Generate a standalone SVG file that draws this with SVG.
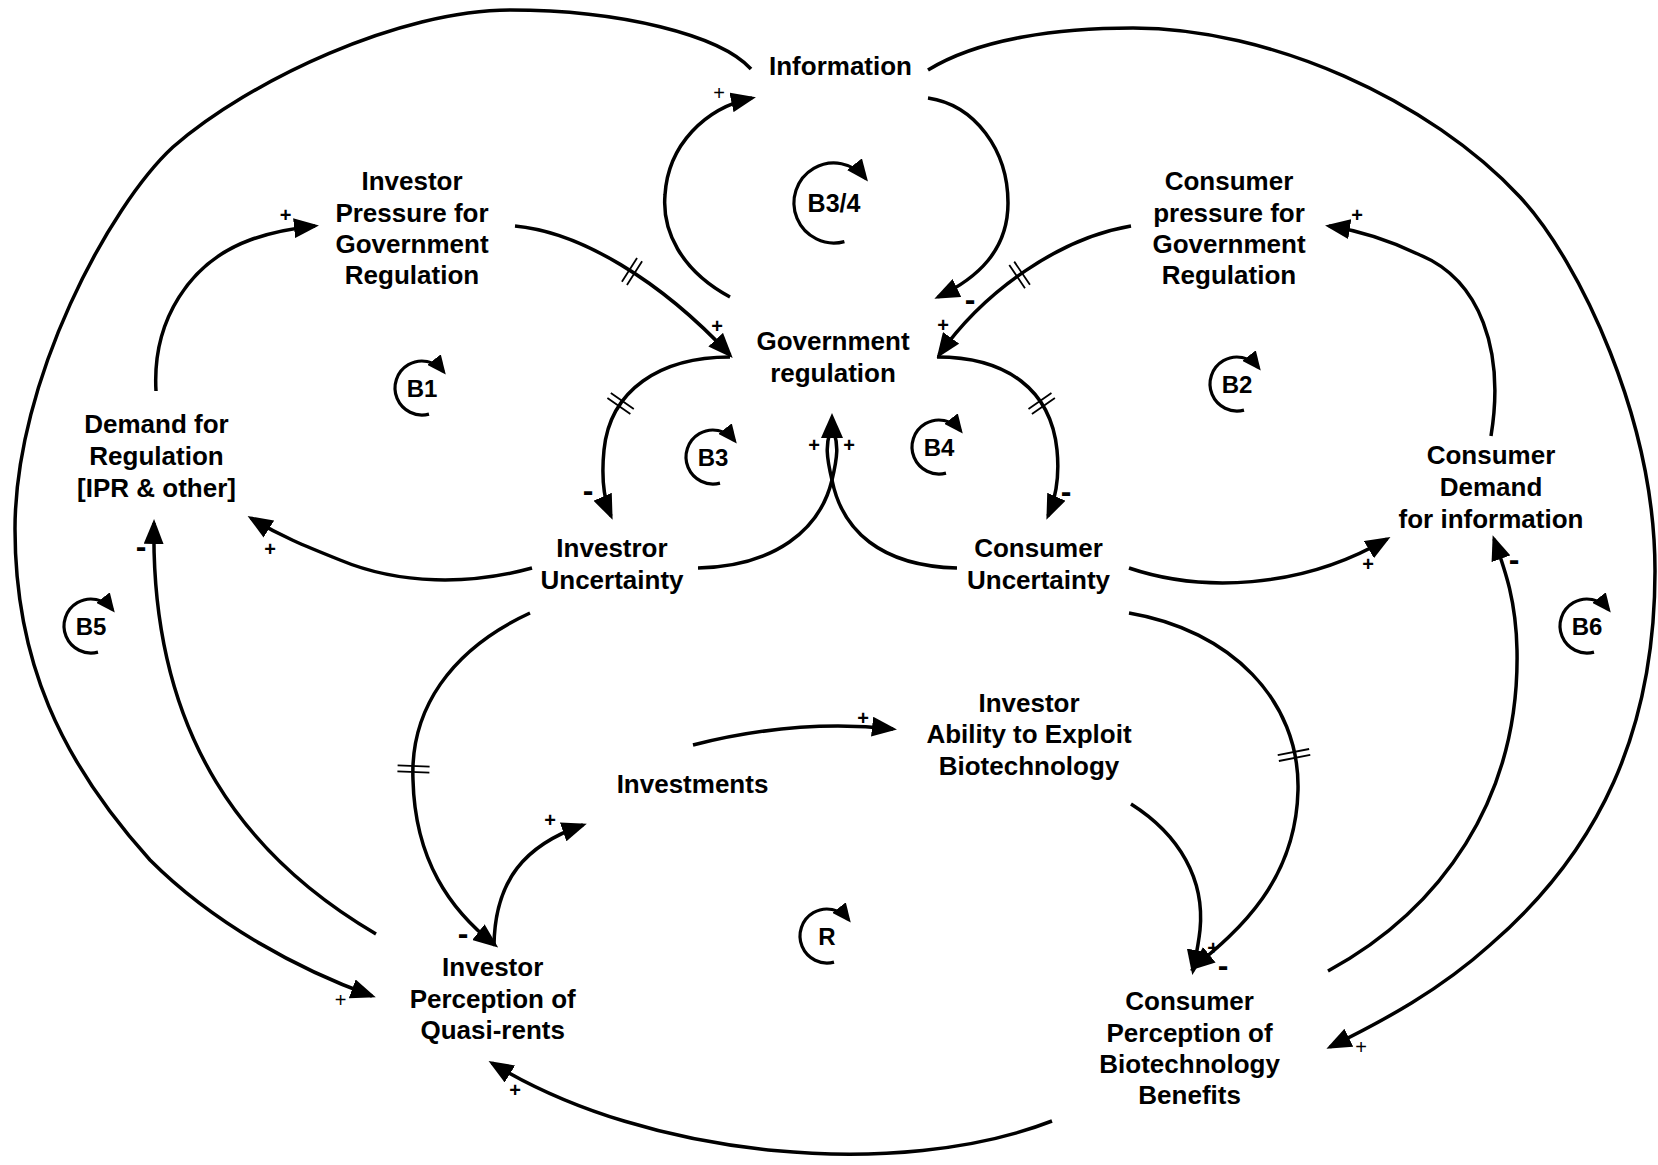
<svg xmlns="http://www.w3.org/2000/svg" width="1658" height="1165" viewBox="0 0 1658 1165">
<style>
.n{font-family:"Liberation Sans",Arial,sans-serif;font-weight:bold;font-size:26px;text-anchor:middle;fill:#000}
.lp{font-family:"Liberation Sans",Arial,sans-serif;font-weight:bold;font-size:24px;text-anchor:middle;fill:#000}
.pl{font-family:"Liberation Sans",Arial,sans-serif;font-weight:bold;font-size:20px;text-anchor:middle;fill:#000}
.plt{font-family:"Liberation Sans",Arial,sans-serif;font-weight:normal;font-size:20px;text-anchor:middle;fill:#000}
.mi{font-family:"Liberation Sans",Arial,sans-serif;font-weight:bold;font-size:32px;text-anchor:middle;fill:#000}
.c{fill:none;stroke:#000;stroke-width:3.5}
.d{fill:none;stroke:#000;stroke-width:1.8}
.la{fill:none;stroke:#000;stroke-width:3.2}
</style>
<defs>
<marker id="ah" markerUnits="userSpaceOnUse" markerWidth="25" markerHeight="20" viewBox="0 0 25 20" refX="21" refY="10" orient="auto"><path d="M0,0 L25,10 L0,20 z" fill="#000"/></marker>
<marker id="ah2" markerUnits="userSpaceOnUse" markerWidth="19" markerHeight="17" viewBox="0 0 19 17" refX="15" refY="8.5" orient="auto"><path d="M0,0 L19,8.5 L0,17 z" fill="#000"/></marker>
<marker id="ah3" markerUnits="userSpaceOnUse" markerWidth="22" markerHeight="19" viewBox="0 0 22 19" refX="18" refY="9.5" orient="auto"><path d="M0,0 L22,9.5 L0,19 z" fill="#000"/></marker>
</defs>
<rect width="1658" height="1165" fill="#fff"/>

<g id="connectors">
<path class="c" d="M751,69 C720,35 620,10 510,10 C400,10 250,80 173,147 C110,205 15,380 15,529 C15,660 60,760 150,860 C215,925 300,970 372,996" marker-end="url(#ah)"/>
<path class="c" d="M928,70 C980,38 1060,28 1133,28 C1270,28 1430,100 1520,197 C1580,262 1655,420 1655,571 C1655,730 1600,850 1490,945 C1440,990 1385,1020 1330,1047" marker-end="url(#ah)"/>
<path class="c" d="M928,98 C975,105 1008,150 1008,203 C1008,250 978,278 938,297" marker-end="url(#ah)"/>
<path class="c" d="M730,297 C680,270 662,230 665,195 C668,145 705,108 752,98" marker-end="url(#ah)"/>
<path class="c" d="M515,226 C580,232 660,280 730,355" marker-end="url(#ah)"/>
<path class="c" d="M1131,226 C1060,238 985,290 939,355" marker-end="url(#ah)"/>
<path class="c" d="M730,357 C660,357 610,390 604,450 C601,480 604,500 611,516" marker-end="url(#ah)"/>
<path class="c" d="M937,357 C1007,357 1051,390 1057,450 C1060,480 1055,500 1048,516" marker-end="url(#ah)"/>
<path class="c" d="M698,568 C775,566 820,530 832,480 C838,455 838,445 834,432"/>
<path class="c" d="M957,568 C880,566 842,530 832,480 C826,455 826,445 830,432"/>
<polygon points="832,413 843,438 821,438" fill="#000"/>
<path class="c" d="M532,568 C470,585 400,585 340,560 C305,546 280,536 251,518" marker-end="url(#ah)"/>
<path class="c" d="M1129,568 C1200,592 1300,590 1387,539" marker-end="url(#ah)"/>
<path class="c" d="M156,391 C152,320 190,262 250,240 C275,231 295,228 315,226" marker-end="url(#ah)"/>
<path class="c" d="M1491,436 C1505,350 1480,280 1420,255 C1385,238 1355,230 1329,226" marker-end="url(#ah)"/>
<path class="c" d="M376,934 C250,860 150,740 154,523" marker-end="url(#ah)"/>
<path class="c" d="M1328,971 C1440,910 1520,800 1517,650 C1516,600 1505,570 1494,539" marker-end="url(#ah)"/>
<path class="c" d="M530,613 C450,650 410,710 413,780 C415,860 450,910 495,945" marker-end="url(#ah)"/>
<path class="c" d="M494,945 C495,880 525,845 583,825" marker-end="url(#ah)"/>
<path class="c" d="M693,745 C760,728 830,722 893,729" marker-end="url(#ah)"/>
<path class="c" d="M1131,804 C1180,835 1205,880 1200,930 C1198,948 1195,960 1193,971" marker-end="url(#ah)"/>
<path class="c" d="M1129,613 C1230,630 1300,700 1298,790 C1296,880 1240,930 1193,968" marker-end="url(#ah)"/>
<path class="c" d="M1052,1121 C900,1180 650,1160 492,1063" marker-end="url(#ah)"/>
<!-- delay marks -->
<path class="d" transform="translate(632,271.5) rotate(32.7)" d="M-3,-14 V14 M3,-14 V14"/>
<path class="d" transform="translate(1019.6,274.9) rotate(145.9)" d="M-3,-14 V14 M3,-14 V14"/>
<path class="d" transform="translate(620.6,403.5) rotate(124.9)" d="M-3,-14 V14 M3,-14 V14"/>
<path class="d" transform="translate(1041.7,403.5) rotate(55.1)" d="M-3,-14 V14 M3,-14 V14"/>
<path class="d" transform="translate(413.5,769) rotate(92)" d="M-3,-16 V16 M3,-16 V16"/>
<path class="d" transform="translate(1294,755) rotate(79)" d="M-3,-16 V16 M3,-16 V16"/>
<!-- polarity signs -->
<text class="plt" x="719" y="99.5">+</text>
<text class="pl" x="717" y="332.5">+</text>
<text class="pl" x="943" y="331.5">+</text>
<text class="mi" x="970" y="310">-</text>
<text class="mi" x="588" y="501">-</text>
<text class="mi" x="1066" y="502">-</text>
<text class="pl" x="814" y="451.5">+</text>
<text class="pl" x="849" y="451.5">+</text>
<text class="pl" x="270" y="555.5">+</text>
<text class="pl" x="1368" y="570.5">+</text>
<text class="pl" x="285.5" y="221.5">+</text>
<text class="pl" x="1357" y="221.5">+</text>
<text class="mi" x="141" y="557">-</text>
<text class="mi" x="1514" y="570">-</text>
<text class="mi" x="463" y="944">-</text>
<text class="pl" x="550" y="827">+</text>
<text class="pl" x="863" y="724.5">+</text>
<text class="pl" x="1213" y="955">+</text>
<text class="mi" x="1223" y="975.5">-</text>
<text class="plt" x="340.5" y="1006.5">+</text>
<text class="plt" x="1361" y="1053.5">+</text>
<text class="pl" x="515" y="1096.5">+</text>
</g>

<g id="loops">
<g id="loop-B34" transform="translate(834,203)"><path class="la" d="M10.4,38.6 A40,40 0 1 1 31.5,-24.6" marker-end="url(#ah3)"/><text class="lp" x="0" y="9" style="font-size:25px">B3/4</text></g>
<g id="loop-B1" transform="translate(422,388)"><path class="la" d="M7,26.1 A27,27 0 1 1 21.3,-16.6" marker-end="url(#ah2)"/><text class="lp" x="0" y="8.6">B1</text></g>
<g id="loop-B2" transform="translate(1237,384)"><path class="la" d="M7,26.1 A27,27 0 1 1 21.3,-16.6" marker-end="url(#ah2)"/><text class="lp" x="0" y="8.6">B2</text></g>
<g id="loop-B3" transform="translate(713,457)"><path class="la" d="M7,26.1 A27,27 0 1 1 21.3,-16.6" marker-end="url(#ah2)"/><text class="lp" x="0" y="8.6">B3</text></g>
<g id="loop-B4" transform="translate(939,447)"><path class="la" d="M7,26.1 A27,27 0 1 1 21.3,-16.6" marker-end="url(#ah2)"/><text class="lp" x="0" y="8.6">B4</text></g>
<g id="loop-B5" transform="translate(91,626)"><path class="la" d="M7,26.1 A27,27 0 1 1 21.3,-16.6" marker-end="url(#ah2)"/><text class="lp" x="0" y="8.6">B5</text></g>
<g id="loop-B6" transform="translate(1587,626)"><path class="la" d="M7,26.1 A27,27 0 1 1 21.3,-16.6" marker-end="url(#ah2)"/><text class="lp" x="0" y="8.6">B6</text></g>
<g id="loop-R" transform="translate(827,936)"><path class="la" d="M7,26.1 A27,27 0 1 1 21.3,-16.6" marker-end="url(#ah2)"/><text class="lp" x="0" y="8.6">R</text></g>
</g>

<g id="n-information"><text class="n" x="840.5" y="75">Information</text></g>
<g id="n-inv-pressure"><text class="n"><tspan x="412" y="190">Investor</tspan><tspan x="412" y="221.5">Pressure for</tspan><tspan x="412" y="253">Government</tspan><tspan x="412" y="284">Regulation</tspan></text></g>
<g id="n-con-pressure"><text class="n"><tspan x="1229" y="190">Consumer</tspan><tspan x="1229" y="221.5">pressure for</tspan><tspan x="1229" y="253">Government</tspan><tspan x="1229" y="284">Regulation</tspan></text></g>
<g id="n-gov-reg"><text class="n"><tspan x="833" y="350">Government</tspan><tspan x="833" y="381.5">regulation</tspan></text></g>
<g id="n-demand-reg"><text class="n"><tspan x="156.5" y="433">Demand for</tspan><tspan x="156.5" y="465">Regulation</tspan><tspan x="156.5" y="496.5">[IPR &amp; other]</tspan></text></g>
<g id="n-con-demand"><text class="n"><tspan x="1491" y="464">Consumer</tspan><tspan x="1491" y="496">Demand</tspan><tspan x="1491" y="527.5">for information</tspan></text></g>
<g id="n-inv-unc"><text class="n"><tspan x="612" y="557">Investror</tspan><tspan x="612" y="589">Uncertainty</tspan></text></g>
<g id="n-con-unc"><text class="n"><tspan x="1038.5" y="557">Consumer</tspan><tspan x="1038.5" y="589">Uncertainty</tspan></text></g>
<g id="n-inv-ability"><text class="n"><tspan x="1029" y="711.5">Investor</tspan><tspan x="1029" y="743">Ability to Exploit</tspan><tspan x="1029" y="775">Biotechnology</tspan></text></g>
<g id="n-investments"><text class="n" x="692.5" y="793">Investments</text></g>
<g id="n-inv-perc"><text class="n"><tspan x="492.7" y="976">Investor</tspan><tspan x="492.7" y="1007.5">Perception of</tspan><tspan x="492.7" y="1039">Quasi-rents</tspan></text></g>
<g id="n-con-perc"><text class="n"><tspan x="1189.6" y="1010">Consumer</tspan><tspan x="1189.6" y="1041.5">Perception of</tspan><tspan x="1189.6" y="1073">Biotechnology</tspan><tspan x="1189.6" y="1104">Benefits</tspan></text></g>
</svg>
